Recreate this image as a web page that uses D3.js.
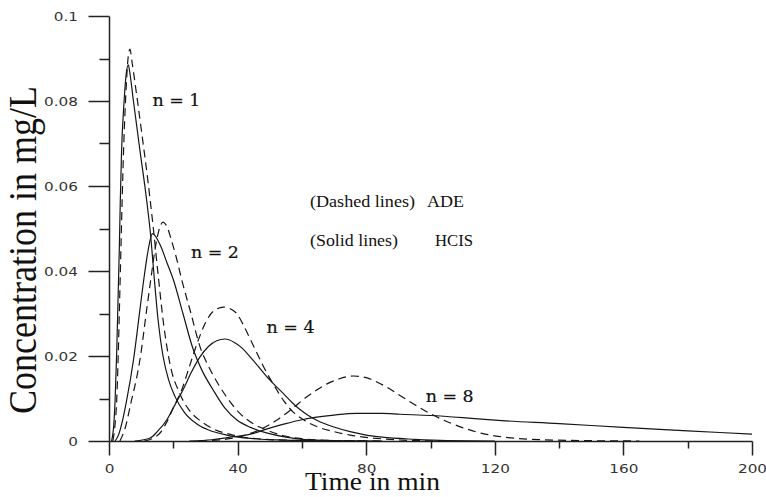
<!DOCTYPE html>
<html>
<head>
<meta charset="utf-8">
<script src="https://cdn.jsdelivr.net/npm/d3@7"></script>
<style>
  html, body { margin: 0; padding: 0; background: #fff; }
  svg { display: block; }
</style>
</head>
<body>
<svg id="chart" width="766" height="497"></svg>
<script>
// Concentration (mg/L) vs time (min); each series is [time, concentration]
// ADE model (dashed)
const ade1 = [[1.2,0],[1.9,0.004],[2.4,0.0096],[2.9,0.021],[3.3,0.033],[3.7,0.045],[4.1,0.057],[4.6,0.070],[5.2,0.081],[5.8,0.089],[6.5,0.0922],[7.2,0.089],[8.1,0.0842],[10.2,0.0724],[12.2,0.0606],[13.8,0.050],[15.3,0.039],[16.9,0.028],[19,0.018],[22,0.0112],[25,0.0072],[28.3,0.0048],[32,0.003],[38.6,0.0014],[45,0.0006],[55,0.0002],[65,0.0001],[80,0]];
const ade2 = [[3.4,0],[5,0.003],[7,0.0096],[8.5,0.0145],[9.6,0.019],[11.7,0.0308],[13,0.038],[14.3,0.045],[15.5,0.0495],[16.8,0.0515],[18,0.0505],[19.5,0.047],[21,0.043],[22.6,0.038],[25.5,0.030],[28.3,0.0222],[31,0.0175],[33.5,0.014],[36,0.011],[40.7,0.0065],[45,0.004],[49,0.0026],[54,0.0013],[59.4,0.0006],[70,0.0001],[85,0]];
const ade4 = [[11,0],[14,0.0008],[16,0.002],[18,0.0045],[20,0.0078],[22.6,0.012],[25,0.0175],[27.8,0.0238],[30,0.0278],[32.4,0.0305],[35.6,0.0315],[37.5,0.0312],[39.7,0.030],[42,0.027],[43.9,0.024],[46,0.0207],[48,0.0176],[50,0.0148],[52.2,0.012],[54.5,0.0093],[57.3,0.0068],[60.5,0.005],[64.6,0.0034],[70,0.0022],[75,0.0014],[85,0.0005],[95,0.0001],[105,0]];
const ade8 = [[28,0],[35,0.0003],[40,0.0009],[44,0.0018],[47,0.0027],[52,0.0048],[57.3,0.0078],[61,0.0101],[64.6,0.012],[68,0.0135],[71.5,0.0146],[76,0.0153],[80,0.0149],[83.3,0.0139],[87,0.0124],[90.5,0.0107],[95,0.0086],[100,0.0064],[106,0.0043],[111,0.0029],[116,0.0018],[121,0.0011],[127,0.0006],[135,0.0003],[148,0.0001],[165,0]];
// HCIS model (solid)
const hcis1 = [[0.8,0],[1.5,0.004],[1.9,0.0096],[2.4,0.021],[2.8,0.033],[3.2,0.045],[3.5,0.056],[3.9,0.068],[4.7,0.080],[5.3,0.086],[6.0,0.0885],[6.6,0.086],[7.6,0.080],[9.6,0.0685],[11.7,0.0567],[13.0,0.048],[14.0,0.039],[15.2,0.029],[16.8,0.020],[18.5,0.0145],[20.5,0.0105],[23.5,0.0067],[27,0.0042],[31,0.0026],[36.6,0.0014],[44,0.0006],[55,0.0002],[70,0]];
const hcis2 = [[1.9,0],[3,0.0015],[4.2,0.0048],[5.5,0.0096],[7.6,0.019],[9.6,0.0308],[11,0.039],[12.2,0.045],[13.5,0.0488],[16,0.046],[18,0.042],[20,0.038],[23,0.030],[26,0.022],[29,0.0165],[32.4,0.012],[36,0.0078],[39.7,0.005],[44,0.0032],[49,0.0019],[55,0.0009],[60,0.0004],[70,0.0001],[85,0]];
const hcis4 = [[8,0],[12.8,0.0007],[15,0.0022],[18,0.005],[20.5,0.0085],[23,0.012],[25.5,0.016],[28.3,0.0198],[31,0.0223],[33.5,0.0236],[36,0.024],[39,0.0232],[41.5,0.0218],[43.9,0.0198],[46.5,0.0175],[49,0.0152],[51.5,0.0132],[54.2,0.0112],[57,0.009],[59.4,0.0074],[62,0.006],[64.6,0.0049],[70,0.0033],[75,0.0022],[80,0.0014],[85,0.0009],[95,0.0004],[105,0.0001],[120,0]];
const hcis8 = [[25,0],[32,0.0003],[38.7,0.001],[44,0.0016],[49,0.0028],[55,0.0041],[60,0.005],[64.6,0.0056],[70,0.0061],[77,0.0065],[85,0.0065],[90.5,0.0063],[100,0.006],[110,0.0055],[120,0.0049],[140,0.0041],[160,0.0032],[180,0.0024],[200,0.0016]];

// Axis ticks and labels
const yMajor = [0, 0.02, 0.04, 0.06, 0.08, 0.1];
const yMinor = [0.01, 0.03, 0.05, 0.07, 0.09];
const yLabels = ["0", "0.02", "0.04", "0.06", "0.08", "0.1"];
const xMajor = [0, 40, 80, 120, 160, 200];
const xMinor = [20, 60, 100, 140, 180];
const xLabels = ["0", "40", "80", "120", "160", "200"];

// Curve annotations: [label, time, concentration at baseline]
const curveLabels = [["n = 1", 13.5, 0.0789], ["n = 2", 25.5, 0.0431], ["n = 4", 49, 0.0254], ["n = 8", 98.5, 0.0092]];

const svg = d3.select("#chart");
const x = d3.scaleLinear().domain([0, 200]).range([109, 752]);
const y = d3.scaleLinear().domain([0, 0.1]).range([441, 16]);

const axisColor = "#222";
const tickFont = "'DejaVu Sans', 'Liberation Sans', Arial, sans-serif";

// Axis frame: one path per axis with the tick marks folded in (major and minor)
const x0 = Math.round(x(0)) + 0.5, y0 = Math.round(y(0)) + 0.5;
const yAxisPath = () => {
  const p = d3.path();
  yMajor.forEach(v => { p.moveTo(x0 - 21, Math.round(y(v)) + 0.5); p.lineTo(x0, Math.round(y(v)) + 0.5); });
  yMinor.forEach(v => { p.moveTo(x0 - 10, Math.round(y(v)) + 0.5); p.lineTo(x0, Math.round(y(v)) + 0.5); });
  p.moveTo(x0, y0); p.lineTo(x0, Math.round(y(0.1)) + 0.5);
  return p.toString();
};
const xAxisPath = () => {
  const p = d3.path();
  xMajor.forEach(v => { p.moveTo(Math.round(x(v)) + 0.5, y0); p.lineTo(Math.round(x(v)) + 0.5, y0 + 14); });
  xMinor.forEach(v => { p.moveTo(Math.round(x(v)) + 0.5, y0); p.lineTo(Math.round(x(v)) + 0.5, y0 + 7); });
  p.moveTo(x0, y0); p.lineTo(Math.round(x(200)) + 0.5, y0);
  return p.toString();
};
svg.append("path").attr("class", "axis-frame").attr("d", yAxisPath())
  .attr("fill", "none").attr("stroke", axisColor).attr("stroke-width", 1.5);
svg.append("path").attr("class", "axis-frame").attr("d", xAxisPath())
  .attr("fill", "none").attr("stroke", axisColor).attr("stroke-width", 1.5);

// Tick labels through d3 axes (the frame above carries the lines)
const gy = svg.append("g").attr("transform", `translate(${x(0)},0)`)
  .call(d3.axisLeft(y).tickValues(yMajor).tickSize(21).tickSizeOuter(0)
    .tickFormat((d, i) => yLabels[i]));
gy.select(".domain").remove();
gy.selectAll(".tick line").remove();
gy.selectAll(".tick text")
  .attr("x", null).attr("dy", null)
  .attr("transform", "translate(-31,4.5) scale(1.22,1)")
  .attr("fill", "#333").attr("font-size", 12.5).attr("font-family", tickFont)
  .attr("text-anchor", "end");

const gx = svg.append("g").attr("transform", `translate(0,${y(0)})`)
  .call(d3.axisBottom(x).tickValues(xMajor).tickSize(14).tickSizeOuter(0)
    .tickFormat((d, i) => xLabels[i]));
gx.select(".domain").remove();
gx.selectAll(".tick line").remove();
gx.selectAll(".tick text")
  .attr("y", null).attr("dy", null)
  .attr("transform", "translate(0,32) scale(1.22,1)")
  .attr("fill", "#333").attr("font-size", 12.5).attr("font-family", tickFont)
  .attr("text-anchor", "middle");

// Curves
const line = d3.line().x(d => x(d[0])).y(d => y(d[1])).curve(d3.curveMonotoneX);
const series = [
  { data: hcis1, dashed: false }, { data: hcis2, dashed: false },
  { data: hcis4, dashed: false }, { data: hcis8, dashed: false },
  { data: ade1, dashed: true }, { data: ade2, dashed: true },
  { data: ade4, dashed: true }, { data: ade8, dashed: true }
];
svg.append("g").selectAll("path").data(series).join("path")
  .attr("d", s => line(s.data))
  .attr("fill", "none")
  .attr("stroke", "#161616")
  .attr("stroke-width", 1.2)
  .attr("stroke-dasharray", s => s.dashed ? "8,5" : null);

// Curve labels
svg.append("g").selectAll("text").data(curveLabels).join("text")
  .attr("x", d => x(d[1])).attr("y", d => y(d[2]))
  .attr("font-family", "'DejaVu Serif', 'Liberation Serif', serif")
  .attr("font-size", 17).attr("fill", "#111")
  .attr("stroke", "#111").attr("stroke-width", 0.2)
  .attr("textLength", 48).attr("lengthAdjust", "spacingAndGlyphs")
  .text(d => d[0]);

// Legend notes
const serif = "'Liberation Serif', 'Times New Roman', serif";
const legend = svg.append("g").attr("font-family", serif).attr("font-size", 17).attr("fill", "#111");
legend.append("text").attr("x", 310).attr("y", 207).attr("textLength", 105).attr("lengthAdjust", "spacingAndGlyphs").text("(Dashed lines)");
legend.append("text").attr("x", 427).attr("y", 207).attr("textLength", 37).attr("lengthAdjust", "spacingAndGlyphs").text("ADE");
legend.append("text").attr("x", 310).attr("y", 246).attr("textLength", 88).attr("lengthAdjust", "spacingAndGlyphs").text("(Solid lines)");
legend.append("text").attr("x", 435).attr("y", 246).attr("textLength", 38).attr("lengthAdjust", "spacingAndGlyphs").text("HCIS");

// Axis titles
svg.append("text")
  .attr("x", 305).attr("y", 490)
  .attr("font-family", serif).attr("font-size", 25).attr("fill", "#111")
  .attr("textLength", 135).attr("lengthAdjust", "spacingAndGlyphs")
  .text("Time in min");
svg.append("text")
  .attr("transform", "translate(36,250) scale(1.1,1) rotate(-90)")
  .attr("text-anchor", "middle")
  .attr("font-family", serif).attr("font-size", 36).attr("fill", "#111")
  .text("Concentration in mg/L");
</script>
</body>
</html>
